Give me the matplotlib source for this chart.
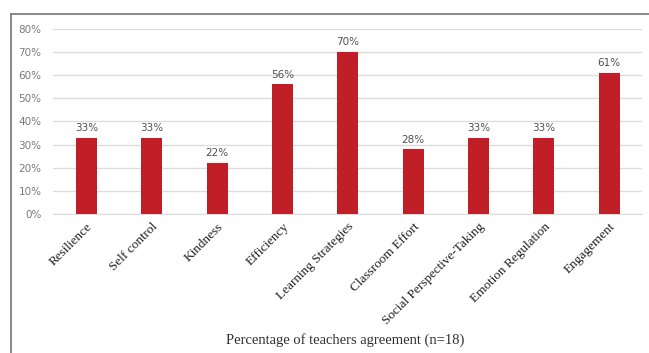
import matplotlib.pyplot as plt
from matplotlib.lines import Line2D
from matplotlib.ticker import PercentFormatter

categories = ['Resilience', 'Self control', 'Kindness', 'Efficiency', 'Learning Strategies',
              'Classroom Effort', 'Social Perspective-Taking', 'Emotion Regulation', 'Engagement']
values = [33, 33, 22, 56, 70, 28, 33, 33, 61]
yticks = [0, 10, 20, 30, 40, 50, 60, 70, 80]

fig = plt.figure(figsize=(6.49, 3.53), dpi=100)
ax = fig.add_axes([0.081, 0.394, 0.908, 0.524])

x = list(range(len(categories)))
ax.bar(x, values, width=0.32, color='#C01F27', zorder=3)
for xi, v in zip(x, values):
    ax.text(xi, v + 2, f'{v}%', ha='center', va='bottom', fontsize=7.5,
            color='#505050', family='DejaVu Sans')

ax.set_xlim(-0.52, 8.5)
ax.set_ylim(0, 80)
ax.set_yticks(yticks)
ax.yaxis.set_major_formatter(PercentFormatter(decimals=0))
ax.grid(axis='y', color='#DCDCDC', linewidth=1, zorder=0)
for s in ax.spines.values():
    s.set_visible(False)
ax.spines['bottom'].set_visible(True)
ax.spines['bottom'].set_color('#DCDCDC')
ax.tick_params(axis='y', length=0, pad=8, labelsize=7.5, labelcolor='#7A7A7A')
ax.tick_params(axis='x', length=0, pad=5)
ax.set_xticks(x)
ax.set_xticklabels(categories, rotation=45, ha='right', rotation_mode='anchor',
                   fontsize=9.5, family='Liberation Serif', color='#202020')
for lab in ax.get_yticklabels():
    lab.set_family('DejaVu Sans')

fig.text(0.532, 0.018, 'Percentage of teachers agreement (n=18)', ha='center', va='bottom',
         fontsize=10.5, family='Liberation Serif', color='#303030')

# outer frame (left and top edges)
fig.add_artist(Line2D([11 / 649, 11 / 649], [0, 1 - 14 / 353], color='#7F7F7F', lw=1.3,
                      transform=fig.transFigure))
fig.add_artist(Line2D([11 / 649, 1], [1 - 14 / 353, 1 - 14 / 353], color='#7F7F7F', lw=1.3,
                      transform=fig.transFigure))

plt.savefig('out.png', dpi=100)
